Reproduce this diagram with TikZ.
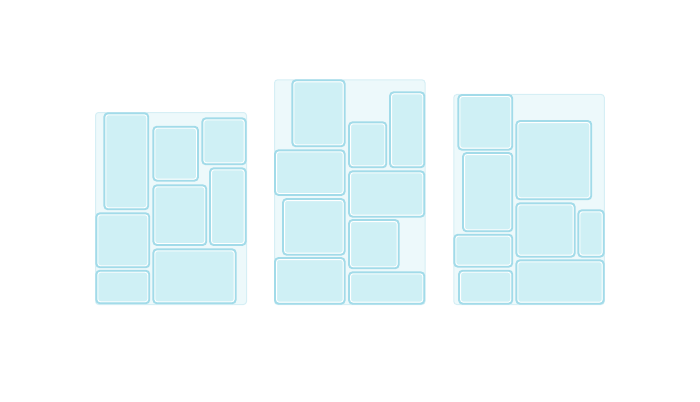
\documentclass[tikz,border=0pt]{standalone}
\definecolor{tilefill}{HTML}{CFF0F5}
\definecolor{tileedge}{HTML}{A2DBE9}
\definecolor{panelfill}{HTML}{EDF9FB}
\definecolor{paneledge}{HTML}{D6EFF5}
\begin{document}
\begin{tikzpicture}[
    x=1pt, y=-1pt,
    panel/.style={fill=panelfill, draw=paneledge, line width=1pt, rounded corners=3pt},
    tile/.style={fill=tilefill, draw=tileedge, line width=1.8pt, rounded corners=3.5pt},
    shine/.style={draw=white, line width=0.8pt, rounded corners=2.5pt}
]
    \useasboundingbox (0,0) rectangle (700,401);

    % Left panel
    \draw[panel] (95.5,112.5) rectangle (246.5,304.5);
    \foreach \xa/\ya/\xb/\yb in {103.3/112.3/149.3/210.3, 152.3/125.7/199/181.7,
        201.3/117.3/246.7/165.3, 209/167.3/246.7/246, 152.3/184.3/207.3/246,
        95.3/212.3/150.3/268.3, 95.3/269.7/150.3/304.3, 152.3/248.3/236.7/304.3} {
        \draw[tile] (\xa+1,\ya+1) rectangle (\xb-1,\yb-1);
        \draw[shine] (\xa+2.6,\ya+2.6) rectangle (\xb-2.6,\yb-2.6);
    }

    % Middle panel
    \draw[panel] (274.5,79.8) rectangle (425,304.5);
    \foreach \xa/\ya/\xb/\yb in {291.3/79.3/345.7/147.3, 348/121.3/387.3/168.3,
        389/91.3/425.3/168.3, 274/149.3/345.7/196, 348/170.3/425.3/217.7,
        282/198/345.7/255.7, 348/219/399.7/269.3, 274/257/345.7/304.7,
        348/271.3/425.3/304.7} {
        \draw[tile] (\xa+1,\ya+1) rectangle (\xb-1,\yb-1);
        \draw[shine] (\xa+2.6,\ya+2.6) rectangle (\xb-2.6,\yb-2.6);
    }

    % Right panel
    \draw[panel] (453.8,94.5) rectangle (604.3,304.5);
    \foreach \xa/\ya/\xb/\yb in {457.3/94/513.3/150.7, 515.3/120/592.3/200.3,
        462/152/513.3/232.3, 515.3/202.3/575.7/257.7, 577.3/209.3/604.7/257.7,
        453.3/233.7/513.3/267.7, 458/269.7/513.3/304.7, 515.3/259.3/604.7/304.7} {
        \draw[tile] (\xa+1,\ya+1) rectangle (\xb-1,\yb-1);
        \draw[shine] (\xa+2.6,\ya+2.6) rectangle (\xb-2.6,\yb-2.6);
    }
\end{tikzpicture}
\end{document}
